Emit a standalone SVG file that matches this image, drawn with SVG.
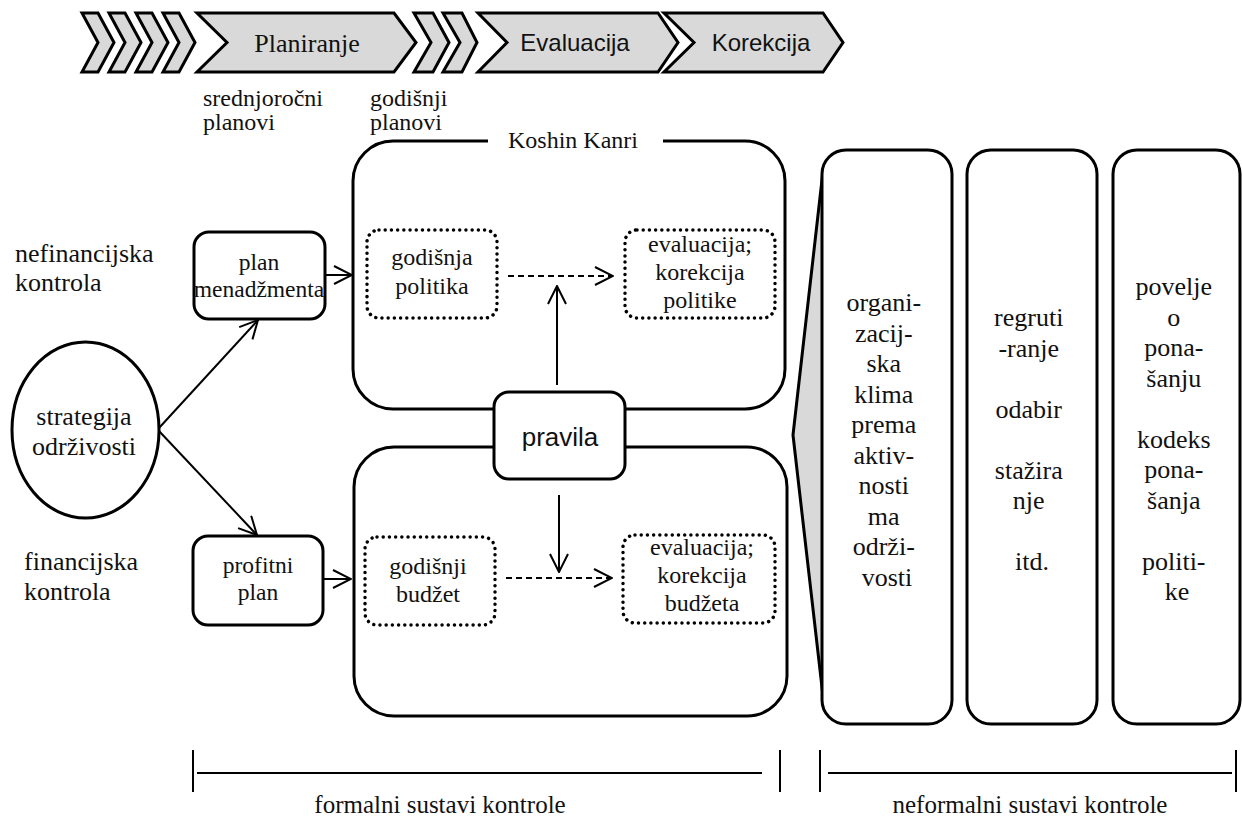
<svg xmlns="http://www.w3.org/2000/svg" width="1242" height="821" viewBox="0 0 1242 821">
<defs>
<style>
.chev{fill:#d9d9d9;stroke:#000;stroke-width:3;stroke-linejoin:miter}
.box{fill:#fff;stroke:#000;stroke-width:3}
.dot{fill:none;stroke:#000;stroke-width:3.5;stroke-dasharray:0.01 6.2;stroke-linecap:round}
.ln{fill:none;stroke:#000;stroke-width:2}
.dash{fill:none;stroke:#000;stroke-width:2;stroke-dasharray:6 4}
.t{font-family:"Liberation Serif","Times New Roman",serif;fill:#111;text-anchor:middle}
.tl{font-family:"Liberation Serif","Times New Roman",serif;fill:#111}
.s{font-family:"Liberation Sans",Arial,sans-serif;fill:#111;text-anchor:middle}
</style>
<marker id="arr" viewBox="0 0 12 12" refX="11" refY="6" markerWidth="12" markerHeight="12" markerUnits="userSpaceOnUse" orient="auto">
<path d="M1,1 L11,6 L1,11" fill="none" stroke="#000" stroke-width="1.6"/>
</marker>
<marker id="arrL" viewBox="0 0 20 20" refX="19" refY="10" markerWidth="20" markerHeight="20" markerUnits="userSpaceOnUse" orient="auto">
<path d="M1,1 L19,10 L1,19" fill="none" stroke="#000" stroke-width="2"/>
</marker>
</defs>
<rect width="1242" height="821" fill="#fff"/>

<g id="process-bar">
<polygon class="chev" points="82,13 98,13 114,42.5 98,72 82,72 98,42.5"/>
<polygon class="chev" points="109,13 125,13 141,42.5 125,72 109,72 125,42.5"/>
<polygon class="chev" points="136,13 152,13 168,42.5 152,72 136,72 152,42.5"/>
<polygon class="chev" points="163,13 179,13 195,42.5 179,72 163,72 179,42.5"/>
<polygon class="chev" points="197,13 394,13 416,42.5 394,72 197,72 227,42.5"/>
<polygon class="chev" points="414,13 433,13 449,42.5 433,72 414,72 431,42.5"/>
<polygon class="chev" points="443,13 462,13 477,42.5 462,72 443,72 460,42.5"/>
<polygon class="chev" points="478,13 658,13 678,42.5 658,72 478,72 507,42.5"/>
<polygon class="chev" points="664,13 823,13 843,42.5 823,72 664,72 694,42.5"/>
<text class="t" x="307" y="52" font-size="26">Planiranje</text>
<text class="s" x="575" y="51" font-size="24">Evaluacija</text>
<text class="s" x="761" y="51" font-size="24">Korekcija</text>
</g>

<g id="label-srednjorocni">
<text class="tl" x="203" y="106" font-size="24">srednjoročni</text>
<text class="tl" x="203" y="130" font-size="24">planovi</text>
</g>
<g id="label-godisnji">
<text class="tl" x="370" y="106" font-size="24">godišnji</text>
<text class="tl" x="370" y="130" font-size="24">planovi</text>
</g>

<g id="label-nefinancijska">
<text class="tl" x="15" y="262" font-size="26">nefinancijska</text>
<text class="tl" x="15" y="291" font-size="26">kontrola</text>
</g>
<g id="label-financijska">
<text class="tl" x="24" y="570" font-size="26">financijska</text>
<text class="tl" x="24" y="600" font-size="26">kontrola</text>
</g>

<g id="koshin-kanri">
<rect class="box" x="353" y="141" width="432" height="268" rx="40"/>
<rect x="488" y="132" width="175" height="20" fill="#fff"/>
<text class="t" x="573" y="148" font-size="24">Koshin Kanri</text>
</g>
<g id="budget-container">
<rect class="box" x="354" y="447" width="433" height="269" rx="40"/>
</g>

<g id="strategija">
<ellipse class="box" cx="85.5" cy="430" rx="73.5" ry="88"/>
<text class="t" x="84" y="425" font-size="26">strategija</text>
<text class="t" x="84" y="455" font-size="26">održivosti</text>
</g>

<g id="plan-menadzmenta">
<rect class="box" x="194" y="232" width="131" height="87" rx="15"/>
<text class="t" x="259" y="270" font-size="23.5">plan</text>
<text class="t" x="259" y="297" font-size="23.5">menadžmenta</text>
</g>
<g id="profitni-plan">
<rect class="box" x="193" y="536" width="130" height="89" rx="15"/>
<text class="t" x="258" y="573" font-size="23.5">profitni</text>
<text class="t" x="258" y="600" font-size="23.5">plan</text>
</g>

<g id="godisnja-politika">
<rect class="dot" x="367" y="230" width="130" height="88" rx="12"/>
<text class="t" x="432" y="265" font-size="24">godišnja</text>
<text class="t" x="432" y="294" font-size="24">politika</text>
</g>
<g id="evaluacija-politike">
<rect class="dot" x="625" y="230" width="150" height="88" rx="12"/>
<text class="t" x="700" y="252" font-size="24">evaluacija;</text>
<text class="t" x="700" y="280" font-size="24">korekcija</text>
<text class="t" x="700" y="308" font-size="24">politike</text>
</g>
<g id="godisnji-budzet">
<rect class="dot" x="365" y="537" width="130" height="88" rx="12"/>
<text class="t" x="428" y="574" font-size="24">godišnji</text>
<text class="t" x="428" y="602" font-size="24">budžet</text>
</g>
<g id="evaluacija-budzeta">
<rect class="dot" x="623" y="535" width="152" height="88" rx="12"/>
<text class="t" x="702" y="555" font-size="24">evaluacija;</text>
<text class="t" x="702" y="583" font-size="24">korekcija</text>
<text class="t" x="702" y="611" font-size="24">budžeta</text>
</g>

<g id="pravila">
<rect class="box" x="494" y="392" width="131" height="87" rx="15"/>
<text class="s" x="560" y="446" font-size="26">pravila</text>
</g>

<g id="connectors">
<line class="ln" x1="159" y1="428" x2="258" y2="320" marker-end="url(#arrL)"/>
<line class="ln" x1="159" y1="431" x2="257" y2="535" marker-end="url(#arrL)"/>
<line class="ln" x1="325" y1="275" x2="352" y2="275" marker-end="url(#arrL)"/>
<line class="ln" x1="323" y1="579" x2="351" y2="579" marker-end="url(#arrL)"/>
<line class="dash" x1="508" y1="276" x2="613" y2="276" marker-end="url(#arrL)"/>
<line class="dash" x1="506" y1="578" x2="612" y2="578" marker-end="url(#arrL)"/>
<line class="ln" x1="557" y1="385" x2="557" y2="286" marker-end="url(#arrL)"/>
<line class="ln" x1="559" y1="495" x2="559" y2="572" marker-end="url(#arrL)"/>
</g>

<g id="informal-wedge">
<polygon points="823,171 793,435 823,696" fill="#d9d9d9" stroke="#000" stroke-width="3" stroke-linejoin="round"/>
</g>

<g id="col-klima">
<rect class="box" x="822" y="150" width="130" height="574" rx="24"/>
<text class="t" font-size="26">
<tspan x="887" y="311">organi-</tspan>
<tspan x="887" y="341.5">zacij-</tspan>
<tspan x="887" y="372">ska</tspan>
<tspan x="887" y="402.5">klima</tspan>
<tspan x="887" y="433">prema</tspan>
<tspan x="887" y="463.5">aktiv-</tspan>
<tspan x="887" y="494">nosti</tspan>
<tspan x="887" y="524.5">ma</tspan>
<tspan x="887" y="555">održi-</tspan>
<tspan x="887" y="585.5">vosti</tspan>
</text>
</g>
<g id="col-regrutiranje">
<rect class="box" x="967" y="150" width="130" height="574" rx="24"/>
<text class="t" font-size="26">
<tspan x="1032" y="326">regruti</tspan>
<tspan x="1032" y="356.5">-ranje</tspan>
<tspan x="1032" y="417.5">odabir</tspan>
<tspan x="1032" y="478.5">stažira</tspan>
<tspan x="1032" y="509">nje</tspan>
<tspan x="1032" y="570">itd.</tspan>
</text>
</g>
<g id="col-povelje">
<rect class="box" x="1113" y="150" width="127" height="574" rx="24"/>
<text class="t" font-size="26">
<tspan x="1177" y="295">povelje</tspan>
<tspan x="1177" y="325.5">o</tspan>
<tspan x="1177" y="356">pona-</tspan>
<tspan x="1177" y="386.5">šanju</tspan>
<tspan x="1177" y="447.5">kodeks</tspan>
<tspan x="1177" y="478">pona-</tspan>
<tspan x="1177" y="508.5">šanja</tspan>
<tspan x="1177" y="569.5">politi-</tspan>
<tspan x="1177" y="600">ke</tspan>
</text>
</g>

<g id="bracket-formal">
<line class="ln" x1="193" y1="750" x2="193" y2="792"/>
<line class="ln" x1="197" y1="773" x2="762" y2="773"/>
<line class="ln" x1="780" y1="750" x2="780" y2="792"/>
<text class="t" x="440" y="813" font-size="25">formalni sustavi kontrole</text>
</g>
<g id="bracket-informal">
<line class="ln" x1="820" y1="750" x2="820" y2="792"/>
<line class="ln" x1="828" y1="773" x2="1232" y2="773"/>
<line class="ln" x1="1236" y1="750" x2="1236" y2="792"/>
<text class="t" x="1030" y="813" font-size="25">neformalni sustavi kontrole</text>
</g>
</svg>
